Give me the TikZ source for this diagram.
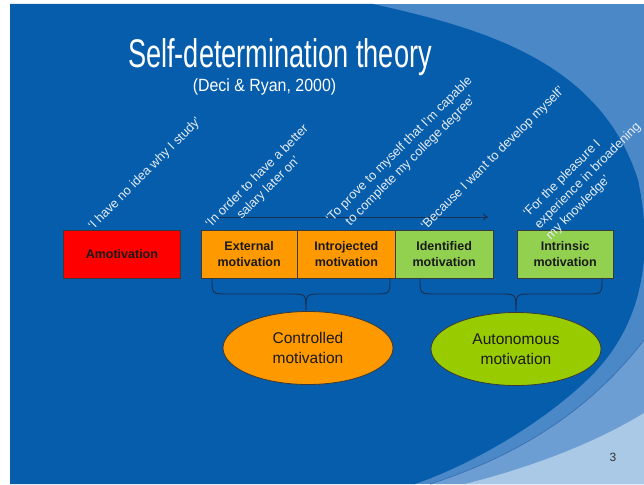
\documentclass[tikz,border=0pt]{standalone}
\usepackage{fontspec}
\setmainfont{Liberation Sans}
\usetikzlibrary{arrows.meta,shapes.geometric}
\definecolor{slideblue}{HTML}{055DAC}
\definecolor{swooshA}{HTML}{4A88C8}
\definecolor{swooshB}{HTML}{6D9ED3}
\definecolor{swooshC}{HTML}{A9C9E7}
\definecolor{swooshline}{HTML}{3A73B3}
\definecolor{redfill}{HTML}{FF0000}
\definecolor{orangefill}{HTML}{FF9900}
\definecolor{greenfill}{HTML}{92D050}
\definecolor{limefill}{HTML}{99CC00}
\definecolor{boxline}{HTML}{3A3A3A}
\definecolor{boxtext}{HTML}{1A1A1A}
\definecolor{quotetext}{HTML}{E6ECF4}
\definecolor{braceline}{HTML}{1B2F50}
\definecolor{pagenum}{HTML}{333333}
\begin{document}
\begin{tikzpicture}[x=1pt,y=-1pt,
  box/.style={draw=boxline, line width=0.8pt, minimum height=48pt, inner sep=0pt,
    align=center, font=\fontsize{12.5}{16}\selectfont\bfseries, text=boxtext, anchor=north west},
  quote/.style={rotate=45, inner sep=0pt, text=quotetext, font=\fontsize{12.8}{16}\selectfont},
  ell/.style={ellipse, draw=boxline, line width=0.8pt, minimum width=170pt, minimum height=73pt,
    inner sep=0pt, align=center, font=\fontsize{15.5}{20}\selectfont, text=boxtext},
  bracepath/.style={draw=braceline, line width=0.9pt},
  arrowpath/.style={draw=braceline, line width=1pt, -{To[length=5pt,width=7pt]}}]
\useasboundingbox (0,0) rectangle (644,484);
\fill[white] (0,0) rectangle (644,484);
\begin{scope}
\clip (10,4) rectangle (644,484);
\fill[swooshA] (10,4) rectangle (644,484);
\fill[swooshB] (430,484) .. controls (520,455) and (590,410) .. (644,340) -- (644,484) -- cycle;
\draw[swooshline, line width=0.8pt] (430,484) .. controls (520,455) and (590,410) .. (644,340);
\fill[swooshC] (465,484) .. controls (540,465) and (600,440) .. (644,413) -- (644,484) -- cycle;
\fill[slideblue] (10,4) -- (373,4) .. controls (480,28) and (600,60) .. (638,180)
  .. controls (655,260) and (640,330) .. (587,380)
  .. controls (540,425) and (470,465) .. (415,484) -- (10,484) -- cycle;
\end{scope}

% title
\node[anchor=base, text=white, inner sep=0pt] (title) at (280,68)
  {\scalebox{0.68}[1]{\fontsize{40}{44}\selectfont Self-determination theory}};
\node[anchor=base, text=white, inner sep=0pt] (subtitle) at (264.5,92)
  {\scalebox{0.9}[1]{\fontsize{17.7}{20}\selectfont (Deci \& Ryan, 2000)}};

% arrow
\coordinate (arrS) at (218,217);
\coordinate (arrE) at (488,217);
\draw[arrowpath] (arrS) -- (arrE);

% boxes
\node[box, fill=redfill, minimum width=117pt] (amot) at (63,230) {Amotivation};
\node[box, fill=orangefill, minimum width=96.5pt] (ext) at (200.5,230) {External\\motivation};
\node[box, fill=orangefill, minimum width=98pt] (intro) at (297,230) {Introjected\\motivation};
\node[box, fill=greenfill, minimum width=97.5pt] (ident) at (395,230) {Identified\\motivation};
\node[box, fill=greenfill, minimum width=96.5pt] (intr) at (516.5,230) {Intrinsic\\motivation};

% quotes (drawn over the boxes, as in the slide)
\node[quote] (q1) at (145,174) {‘I have no idea why I study’};
\node[quote, align=center] (q2) at (263,182.5) {‘In order to have a better\\salary later on’};
\node[quote, align=center] (q3) at (405,155.5) {‘To prove to myself that I’m capable\\to complete my college degree’};
\node[quote] (q4) at (493,158.5) {‘Because I want to develop myself’};
\node[quote, align=left] (q5) at (588,176) {‘For the pleasure I\\experience in broadening\\my knowledge’};

% ellipses
\node[ell, fill=orangefill] (ctrl) at (308,348) {Controlled\\motivation};
\node[ell, fill=limefill] (auto) at (516,349) {Autonomous\\motivation};

% braces
\coordinate (b1l) at (212,278);
\coordinate (b1r) at (390,278);
\coordinate (b1c) at (306,310);
\draw[bracepath] (b1l) .. controls (212,294) .. (228,294) -- (290,294) .. controls (306,294) .. (b1c);
\draw[bracepath] (b1r) .. controls (390,294) .. (374,294) -- (322,294) .. controls (306,294) .. (b1c);
\coordinate (b2l) at (420,278);
\coordinate (b2r) at (602,278);
\coordinate (b2c) at (516,311);
\draw[bracepath] (b2l) .. controls (420,294) .. (436,294) -- (500,294) .. controls (516,294) .. (b2c);
\draw[bracepath] (b2r) .. controls (602,294) .. (586,294) -- (532,294) .. controls (516,294) .. (b2c);

% page number
\node[text=pagenum, font=\fontsize{12}{14}\selectfont, inner sep=0pt] (page) at (613,457) {3};
\end{tikzpicture}
\end{document}
